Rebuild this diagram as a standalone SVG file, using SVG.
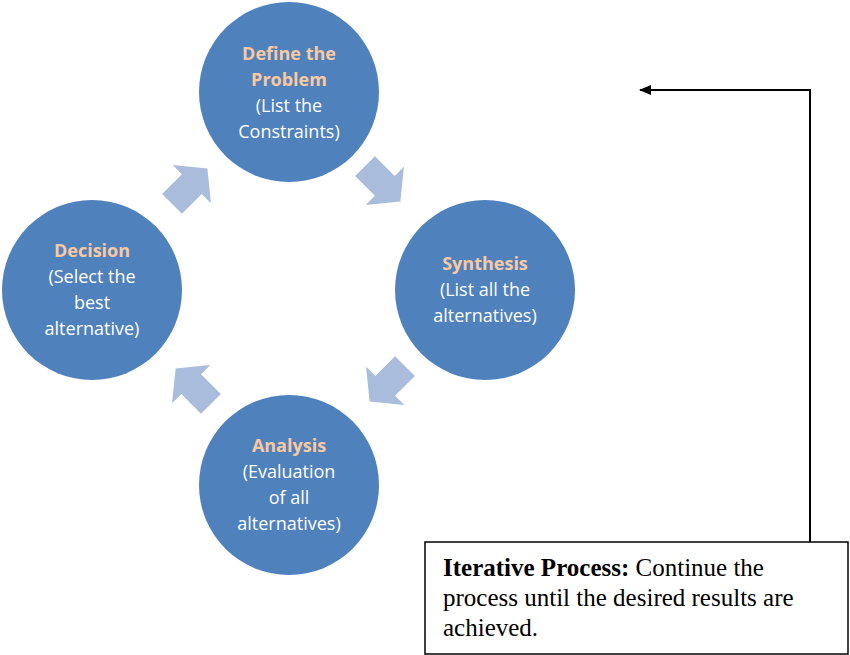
<svg xmlns="http://www.w3.org/2000/svg" width="850" height="655" viewBox="0 0 850 655">
<style>
.c{fill:#4F81BD}
.t{font-family:"Open Sans","Liberation Sans",sans-serif;font-size:18px;fill:#fff;text-anchor:middle}
.h{font-weight:bold;fill:#FAC9A0}
.ba{fill:#A9BCDB}
.r{font-family:"Liberation Serif",serif;font-size:25px;fill:#000}
</style>
<defs>
<polygon id="blk" points="-24,-14 4,-14 4,-27 26,0 4,27 4,14 -24,14"/>
<marker id="ah" markerWidth="12" markerHeight="10" refX="11" refY="5" orient="auto" markerUnits="userSpaceOnUse"><path d="M0,0 L12,5 L0,10 Z" fill="#000"/></marker>
</defs>
<rect width="850" height="655" fill="#fff"/>
<g id="arrows" class="ba">
<use href="#blk" transform="translate(382,183) rotate(45)"/>
<use href="#blk" transform="translate(388,383) rotate(135)"/>
<use href="#blk" transform="translate(194,387) rotate(225)"/>
<use href="#blk" transform="translate(189,187) rotate(-45)"/>
</g>
<g id="define"><circle class="c" cx="289" cy="92" r="90"/>
<text class="t" x="289" y="60"><tspan class="h" x="289">Define the</tspan><tspan class="h" x="289" dy="26">Problem</tspan><tspan x="289" dy="26">(List the</tspan><tspan x="289" dy="26">Constraints)</tspan></text></g>
<g id="synthesis"><circle class="c" cx="485" cy="290" r="90"/>
<text class="t" x="485" y="270"><tspan class="h" x="485">Synthesis</tspan><tspan x="485" dy="26">(List all the</tspan><tspan x="485" dy="26">alternatives)</tspan></text></g>
<g id="analysis"><circle class="c" cx="289" cy="485" r="90"/>
<text class="t" x="289" y="452"><tspan class="h" x="289">Analysis</tspan><tspan x="289" dy="26">(Evaluation</tspan><tspan x="289" dy="26">of all</tspan><tspan x="289" dy="26">alternatives)</tspan></text></g>
<g id="decision"><circle class="c" cx="92" cy="290" r="90"/>
<text class="t" x="92" y="257"><tspan class="h" x="92">Decision</tspan><tspan x="92" dy="26">(Select the</tspan><tspan x="92" dy="26">best</tspan><tspan x="92" dy="26">alternative)</tspan></text></g>
<g id="connectors"><polyline points="810,542 810,90 640,90" fill="none" stroke="#000" stroke-width="2" marker-end="url(#ah)"/></g>
<g id="note"><rect x="425" y="542" width="423" height="112" fill="#fff" stroke="#000" stroke-width="1.5"/>
<text class="r" x="443" y="576"><tspan font-weight="bold">Iterative Process:</tspan> Continue the</text>
<text class="r" x="443" y="606">process until the desired results are</text>
<text class="r" x="443" y="636">achieved.</text></g>
</svg>
